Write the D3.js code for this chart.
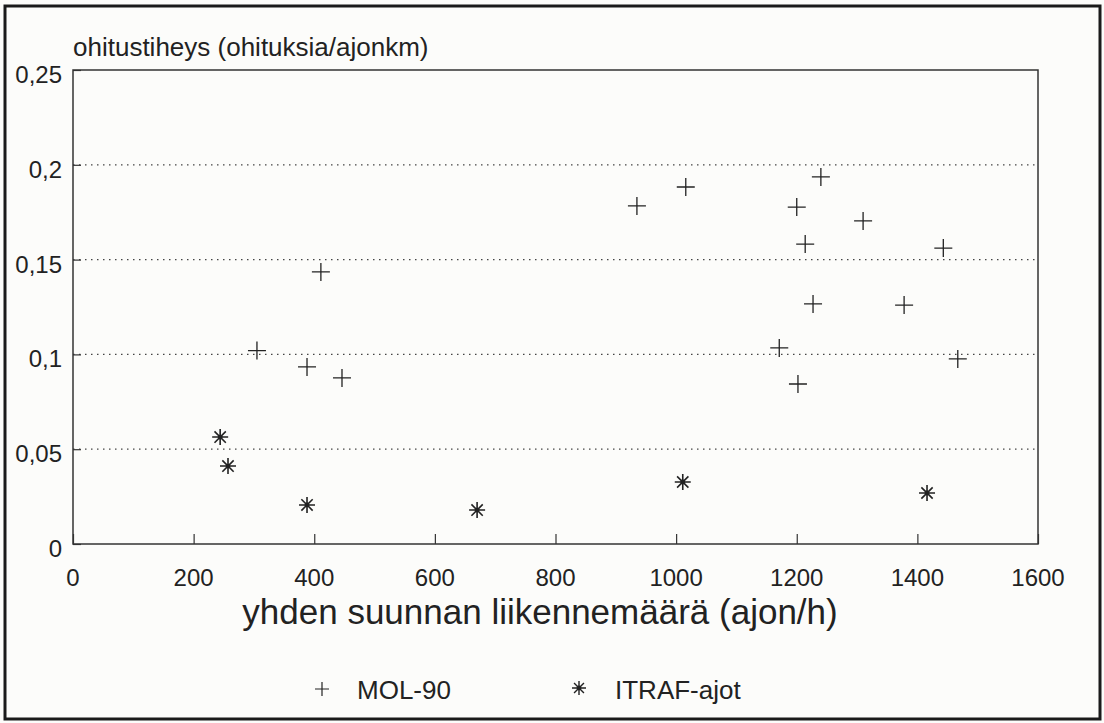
<!DOCTYPE html>
<html><head><meta charset="utf-8">
<script src="https://cdn.jsdelivr.net/npm/d3@7/dist/d3.min.js"></script>
<style>
html,body{margin:0;padding:0;background:#fcfcfa;}
svg{display:block;}
text{font-family:"Liberation Sans",Arial,Helvetica,sans-serif;fill:#222;}
</style></head><body>
<svg id="c" width="1104" height="723"></svg>
<script>
// ---- data ----
const xTicks = [0, 200, 400, 600, 800, 1000, 1200, 1400, 1600];
const yTicks = [0, 0.05, 0.1, 0.15, 0.2, 0.25];
const yTickLabels = ["0", "0,05", "0,1", "0,15", "0,2", "0,25"];
const yTitle = "ohitustiheys (ohituksia/ajonkm)";
const xTitle = "yhden suunnan liikennemäärä (ajon/h)";
const seriesNames = ["MOL-90", "ITRAF-ajot"];
const molX = [305, 388, 411, 446, 935, 1016, 1171, 1200, 1202, 1214, 1227, 1240, 1310, 1378, 1443, 1467];
const molY = [0.102, 0.0934, 0.1435, 0.0876, 0.1783, 0.1883, 0.1034, 0.1777, 0.0844, 0.1582, 0.1266, 0.1936, 0.1704, 0.126, 0.1561, 0.0976];
const itrafX = [244, 257, 388, 670, 1011, 1416];
const itrafY = [0.0564, 0.0411, 0.0206, 0.0179, 0.0327, 0.0269];

// ---- layout ----
const L = 73, R = 1038, T = 70, B = 544;
const svg = d3.select("#c");
const ink = "#222";

const x = d3.scaleLinear().domain([0, 1600]).range([L, R]);
const y = d3.scaleLinear().domain([0, 0.25]).range([B, T]);

// outer frame
svg.append("rect").attr("x", 5).attr("y", 6).attr("width", 1095).attr("height", 713)
  .attr("fill", "none").attr("stroke", "#1a1a1a").attr("stroke-width", 3);

// gridlines (dotted)
svg.append("g").selectAll("line").data(yTicks.filter(v => v > 0 && v < 0.25)).join("line")
  .attr("x1", L).attr("x2", R).attr("y1", d => y(d)).attr("y2", d => y(d))
  .attr("stroke", "#444").attr("stroke-width", 1.2).attr("stroke-dasharray", "1.5,4.5");

// axes with inward ticks
const xAxis = d3.axisTop(x).tickValues(xTicks).tickSize(10).tickFormat("");
const gx = svg.append("g").attr("transform", `translate(0,${B})`).call(xAxis);
const yAxis = d3.axisRight(y).tickValues(yTicks).tickSize(8).tickFormat("");
const gy = svg.append("g").attr("transform", `translate(${L},0)`).call(yAxis);
[gx, gy].forEach(g => {
  g.select(".domain").remove();
  g.selectAll("line").attr("stroke", "#333").attr("stroke-width", 1.2);
});

// plot frame
svg.append("rect").attr("x", L).attr("y", T).attr("width", R - L).attr("height", B - T)
  .attr("fill", "none").attr("stroke", "#333").attr("stroke-width", 1.5);

// tick labels
svg.append("g").selectAll("text").data(xTicks).join("text")
  .attr("x", d => x(d)).attr("y", 586).attr("text-anchor", "middle")
  .attr("font-size", 24).text(d => d);
svg.append("g").selectAll("text").data(yTicks).join("text")
  .attr("x", 62).attr("y", d => y(d) + 13).attr("text-anchor", "end")
  .attr("font-size", 24).text((d, i) => yTickLabels[i]);

// titles
svg.append("text").attr("x", 73).attr("y", 56).attr("font-size", 26).text(yTitle);
svg.append("text").attr("x", 540).attr("y", 624).attr("text-anchor", "middle")
  .attr("font-size", 35).text(xTitle);

// markers
function plus(g, cx, cy, s, w) {
  g.append("path").attr("d", `M${cx - s},${cy}H${cx + s}M${cx},${cy - s}V${cy + s}`)
    .attr("stroke", ink).attr("stroke-width", w).attr("fill", "none");
}
function star(g, cx, cy, s, w) {
  const d = s * Math.SQRT1_2;
  g.append("path").attr("d",
    `M${cx - s},${cy}H${cx + s}M${cx},${cy - s}V${cy + s}` +
    `M${cx - d},${cy - d}L${cx + d},${cy + d}M${cx - d},${cy + d}L${cx + d},${cy - d}`)
    .attr("stroke", ink).attr("stroke-width", w).attr("fill", "none");
  g.append("circle").attr("cx", cx).attr("cy", cy).attr("r", 2.4).attr("fill", ink);
}
const gm = svg.append("g");
molX.forEach((v, i) => plus(gm, x(v), y(molY[i]), 9, 1.3));
const gs = svg.append("g");
itrafX.forEach((v, i) => star(gs, x(v), y(itrafY[i]), 8, 1.6));

// legend
const lg = svg.append("g");
plus(lg, 322, 689, 7, 1.2);
lg.append("text").attr("x", 357).attr("y", 699).attr("font-size", 26).text(seriesNames[0]);
star(lg, 579, 688, 7, 1.4);
lg.append("text").attr("x", 615).attr("y", 699).attr("font-size", 26).text(seriesNames[1]);
</script>
</body></html>
